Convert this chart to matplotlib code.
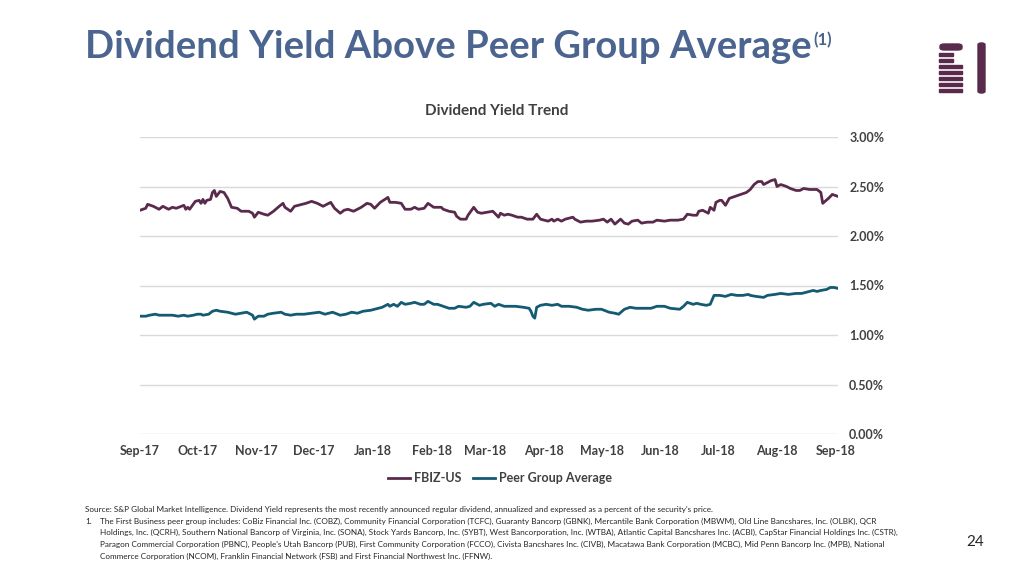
import numpy as np
import pandas as pd
import matplotlib
matplotlib.use("Agg")
import matplotlib.pyplot as plt
import matplotlib.dates as mdates
from matplotlib.patches import FancyBboxPatch, Rectangle

plt.rcParams['font.family'] = ['Lato', 'DejaVu Sans']

# ---- data (dividend yield, %) ----
fbiz_dates = [
    "2017-09-01", "2017-09-04", "2017-09-05", "2017-09-08", "2017-09-11", "2017-09-13",
    "2017-09-16", "2017-09-18", "2017-09-20", "2017-09-24", "2017-09-25", "2017-09-26",
    "2017-09-27", "2017-09-30", "2017-10-02", "2017-10-03", "2017-10-04", "2017-10-05",
    "2017-10-06", "2017-10-08", "2017-10-09", "2017-10-10", "2017-10-11", "2017-10-13",
    "2017-10-15", "2017-10-17", "2017-10-19", "2017-10-22", "2017-10-24", "2017-10-28",
    "2017-10-30", "2017-10-31", "2017-11-02", "2017-11-05", "2017-11-07", "2017-11-10",
    "2017-11-13", "2017-11-15", "2017-11-16", "2017-11-19", "2017-11-21", "2017-11-23",
    "2017-11-27", "2017-11-30", "2017-12-03", "2017-12-06", "2017-12-10", "2017-12-12",
    "2017-12-15", "2017-12-17", "2017-12-19", "2017-12-22", "2017-12-24", "2017-12-26",
    "2017-12-29", "2017-12-31", "2018-01-02", "2018-01-05", "2018-01-09", "2018-01-10",
    "2018-01-13", "2018-01-16", "2018-01-18", "2018-01-21", "2018-01-23", "2018-01-25",
    "2018-01-28", "2018-01-30", "2018-02-02", "2018-02-06", "2018-02-07", "2018-02-10",
    "2018-02-13", "2018-02-14", "2018-02-16", "2018-02-19", "2018-02-20", "2018-02-23",
    "2018-02-25", "2018-02-27", "2018-03-02", "2018-03-05", "2018-03-06", "2018-03-08",
    "2018-03-09", "2018-03-11", "2018-03-13", "2018-03-15", "2018-03-18", "2018-03-20",
    "2018-03-23", "2018-03-26", "2018-03-28", "2018-03-30", "2018-04-01", "2018-04-03",
    "2018-04-05", "2018-04-06", "2018-04-08", "2018-04-10", "2018-04-12", "2018-04-16",
    "2018-04-17", "2018-04-20", "2018-04-23", "2018-04-26", "2018-04-30", "2018-05-02",
    "2018-05-04", "2018-05-06", "2018-05-08", "2018-05-11", "2018-05-13", "2018-05-15",
    "2018-05-17", "2018-05-20", "2018-05-22", "2018-05-25", "2018-05-28", "2018-05-30",
    "2018-06-03", "2018-06-06", "2018-06-10", "2018-06-13", "2018-06-15", "2018-06-18",
    "2018-06-20", "2018-06-21", "2018-06-23", "2018-06-26", "2018-06-27", "2018-06-29",
    "2018-06-30", "2018-07-02", "2018-07-03", "2018-07-05", "2018-07-07", "2018-07-10",
    "2018-07-13", "2018-07-16", "2018-07-18", "2018-07-20", "2018-07-22", "2018-07-24",
    "2018-07-25", "2018-07-27", "2018-07-29", "2018-07-31", "2018-08-01", "2018-08-03",
    "2018-08-06", "2018-08-08", "2018-08-11", "2018-08-13", "2018-08-15", "2018-08-18",
    "2018-08-22", "2018-08-24", "2018-08-25", "2018-08-28", "2018-08-30", "2018-09-02",
]
fbiz_yield = [
    2.26, 2.28, 2.32, 2.30, 2.27, 2.30,
    2.27, 2.29, 2.28, 2.31, 2.27, 2.29,
    2.27, 2.35, 2.36, 2.33, 2.37, 2.33,
    2.36, 2.37, 2.44, 2.46, 2.40, 2.45,
    2.44, 2.38, 2.29, 2.28, 2.25, 2.25,
    2.23, 2.19, 2.24, 2.22, 2.21, 2.25,
    2.30, 2.33, 2.29, 2.25, 2.30, 2.31,
    2.33, 2.35, 2.33, 2.30, 2.34, 2.28,
    2.23, 2.26, 2.27, 2.25, 2.27, 2.29,
    2.33, 2.32, 2.28, 2.34, 2.39, 2.34,
    2.34, 2.33, 2.27, 2.27, 2.29, 2.27,
    2.28, 2.33, 2.29, 2.29, 2.27, 2.25,
    2.24, 2.20, 2.17, 2.17, 2.21, 2.29,
    2.24, 2.23, 2.24, 2.25, 2.23, 2.19,
    2.23, 2.21, 2.22, 2.21, 2.19, 2.19,
    2.17, 2.17, 2.22, 2.17, 2.16, 2.15,
    2.17, 2.15, 2.17, 2.15, 2.17, 2.19,
    2.17, 2.14, 2.15, 2.15, 2.16, 2.17,
    2.14, 2.17, 2.12, 2.17, 2.13, 2.12,
    2.15, 2.16, 2.13, 2.14, 2.14, 2.16,
    2.15, 2.16, 2.16, 2.17, 2.22, 2.21,
    2.21, 2.25, 2.26, 2.23, 2.29, 2.26,
    2.34, 2.36, 2.36, 2.31, 2.38, 2.40,
    2.42, 2.44, 2.47, 2.52, 2.55, 2.55,
    2.52, 2.54, 2.56, 2.57, 2.50, 2.52,
    2.50, 2.48, 2.46, 2.46, 2.48, 2.47,
    2.47, 2.44, 2.33, 2.38, 2.42, 2.40,
]

peer_dates = [
    "2017-09-01", "2017-09-04", "2017-09-06", "2017-09-09", "2017-09-11", "2017-09-14",
    "2017-09-18", "2017-09-21", "2017-09-24", "2017-09-26", "2017-09-29", "2017-10-01",
    "2017-10-03", "2017-10-04", "2017-10-07", "2017-10-09", "2017-10-11", "2017-10-13",
    "2017-10-17", "2017-10-21", "2017-10-24", "2017-10-27", "2017-10-30", "2017-10-31",
    "2017-11-02", "2017-11-05", "2017-11-07", "2017-11-10", "2017-11-14", "2017-11-16",
    "2017-11-19", "2017-11-22", "2017-11-26", "2017-11-30", "2017-12-04", "2017-12-07",
    "2017-12-11", "2017-12-15", "2017-12-18", "2017-12-21", "2017-12-24", "2017-12-27",
    "2017-12-31", "2018-01-02", "2018-01-06", "2018-01-09", "2018-01-10", "2018-01-12",
    "2018-01-14", "2018-01-16", "2018-01-18", "2018-01-21", "2018-01-23", "2018-01-26",
    "2018-01-28", "2018-01-30", "2018-02-02", "2018-02-04", "2018-02-07", "2018-02-10",
    "2018-02-13", "2018-02-15", "2018-02-19", "2018-02-21", "2018-02-23", "2018-02-26",
    "2018-02-28", "2018-03-04", "2018-03-06", "2018-03-08", "2018-03-11", "2018-03-14",
    "2018-03-17", "2018-03-21", "2018-03-24", "2018-03-25", "2018-03-26", "2018-03-27",
    "2018-03-28", "2018-03-30", "2018-04-02", "2018-04-05", "2018-04-08", "2018-04-10",
    "2018-04-14", "2018-04-18", "2018-04-21", "2018-04-24", "2018-04-28", "2018-05-01",
    "2018-05-05", "2018-05-08", "2018-05-10", "2018-05-13", "2018-05-16", "2018-05-19",
    "2018-05-23", "2018-05-27", "2018-05-30", "2018-06-03", "2018-06-06", "2018-06-11",
    "2018-06-13", "2018-06-15", "2018-06-18", "2018-06-20", "2018-06-22", "2018-06-25",
    "2018-06-27", "2018-06-29", "2018-07-02", "2018-07-05", "2018-07-08", "2018-07-11",
    "2018-07-14", "2018-07-17", "2018-07-18", "2018-07-21", "2018-07-25", "2018-07-27",
    "2018-07-31", "2018-08-03", "2018-08-07", "2018-08-11", "2018-08-14", "2018-08-18",
    "2018-08-20", "2018-08-22", "2018-08-24", "2018-08-27", "2018-08-29", "2018-08-31",
    "2018-09-02",
]
peer_yield = [
    1.19, 1.19, 1.20, 1.21, 1.20, 1.20,
    1.20, 1.19, 1.20, 1.19, 1.20, 1.21,
    1.21, 1.20, 1.21, 1.24, 1.25, 1.24,
    1.23, 1.21, 1.22, 1.23, 1.20, 1.16,
    1.19, 1.19, 1.21, 1.22, 1.23, 1.21,
    1.20, 1.21, 1.21, 1.22, 1.23, 1.21,
    1.23, 1.20, 1.21, 1.23, 1.22, 1.24,
    1.25, 1.26, 1.28, 1.31, 1.29, 1.31,
    1.29, 1.33, 1.31, 1.32, 1.33, 1.31,
    1.31, 1.34, 1.31, 1.31, 1.29, 1.27,
    1.27, 1.29, 1.28, 1.29, 1.33, 1.30,
    1.31, 1.32, 1.29, 1.31, 1.29, 1.29,
    1.29, 1.28, 1.27, 1.24, 1.19, 1.17,
    1.28, 1.30, 1.31, 1.30, 1.31, 1.29,
    1.29, 1.28, 1.26, 1.25, 1.26, 1.26,
    1.23, 1.22, 1.21, 1.26, 1.28, 1.27,
    1.27, 1.27, 1.29, 1.29, 1.27, 1.26,
    1.29, 1.33, 1.31, 1.32, 1.31, 1.30,
    1.31, 1.40, 1.40, 1.39, 1.41, 1.40,
    1.40, 1.41, 1.40, 1.39, 1.38, 1.40,
    1.41, 1.42, 1.41, 1.42, 1.42, 1.44,
    1.45, 1.44, 1.45, 1.46, 1.48, 1.48,
    1.47,
]

y_ticks = [0.0, 0.5, 1.0, 1.5, 2.0, 2.5, 3.0]
x_start, x_end = "2017-09-01", "2018-09-02"

purple = "#5a2a4c"
teal = "#145a72"
slate = "#4b6490"
grey_txt = "#404040"

fig = plt.figure(figsize=(10.24, 5.76), dpi=100)
fig.patch.set_facecolor("white")

ax = fig.add_axes([140 / 1024, 1 - 434 / 576, 698 / 1024, 297 / 576])
ax.plot(pd.to_datetime(fbiz_dates), fbiz_yield, color=purple, lw=2.0, label="FBIZ-US")
ax.plot(pd.to_datetime(peer_dates), peer_yield, color=teal, lw=2.0, label="Peer Group Average")

ax.set_xlim(pd.Timestamp(x_start), pd.Timestamp(x_end))
ax.set_ylim(0, 3.0)
ax.set_yticks(y_ticks)
ax.set_yticklabels(["%.2f%%" % v for v in y_ticks])
ax.yaxis.tick_right()
ax.grid(axis="y", color="#d9d9d9", lw=1)
ax.set_axisbelow(True)
for s in ax.spines.values():
    s.set_visible(False)
ax.xaxis.set_major_locator(mdates.MonthLocator())
ax.xaxis.set_major_formatter(mdates.DateFormatter("%b-%y"))
ax.tick_params(length=0, labelsize=9, labelcolor=grey_txt, pad=8)
for lab in ax.get_xticklabels() + ax.get_yticklabels():
    lab.set_fontweight("bold")

fig.text(497 / 1024, 1 - 111 / 576, "Dividend Yield Trend", ha="center", va="center",
         fontsize=11, fontweight="bold", color=grey_txt)

fig.legend(loc="center", bbox_to_anchor=(500 / 1024, 1 - 478 / 576), ncol=2, frameon=False,
           handlelength=1.8, handletextpad=0.3, columnspacing=0.9,
           prop={"weight": "bold", "size": 9}, labelcolor=grey_txt)

# slide title, superscript placed right after it
title = fig.text(85 / 1024, 1 - 47 / 576, "Dividend Yield Above Peer Group Average", ha="left",
                 va="center", fontsize=27.5, fontweight="bold", color=slate)
fig.canvas.draw()
bb = title.get_window_extent().transformed(fig.transFigure.inverted())
fig.text(bb.x1 + 2 / 1024, 1 - 40 / 576, "(1)", ha="left", va="center",
         fontsize=12, fontweight="bold", color=slate)

# logo
def px_rect(x0, y0, x1, y1, **kw):
    return Rectangle((x0 / 1024, 1 - y1 / 576), (x1 - x0) / 1024, (y1 - y0) / 576,
                     transform=fig.transFigure, **kw)

fig.patches.append(FancyBboxPatch((940 / 1024, 1 - 50 / 576), 22 / 1024, 6 / 576,
                                  boxstyle="round,pad=0,rounding_size=0.004",
                                  transform=fig.transFigure, color=purple))
for y0, x1 in [(53, 953), (59, 953), (65, 962), (71, 962), (77, 962), (83, 962), (89, 962)]:
    fig.patches.append(px_rect(939, y0, x1, y0 + 3, color=purple))
fig.patches.append(FancyBboxPatch((978 / 1024, 1 - 93 / 576), 7 / 1024, 50 / 576,
                                  boxstyle="round,pad=0,rounding_size=0.003",
                                  transform=fig.transFigure, color=purple))

# footnotes
source_note = "Source: S&P Global Market Intelligence. Dividend Yield represents the most recently announced regular dividend, annualized and expressed as a percent of the security's price."
peer_note = [
    "The First Business peer group includes: CoBiz Financial Inc. (COBZ), Community Financial Corporation (TCFC), Guaranty Bancorp (GBNK), Mercantile Bank Corporation (MBWM), Old Line Bancshares, Inc. (OLBK), QCR",
    "Holdings, Inc. (QCRH), Southern National Bancorp of Virginia, Inc. (SONA), Stock Yards Bancorp, Inc. (SYBT), West Bancorporation, Inc. (WTBA), Atlantic Capital Bancshares Inc. (ACBI), CapStar Financial Holdings Inc. (CSTR),",
    "Paragon Commercial Corporation (PBNC), People's Utah Bancorp (PUB), First Community Corporation (FCCO), Civista Bancshares Inc. (CIVB), Macatawa Bank Corporation (MCBC), Mid Penn Bancorp Inc. (MPB), National",
    "Commerce Corporation (NCOM), Franklin Financial Network (FSB) and First Financial Northwest Inc. (FFNW).",
]
fs_note = 5.85
fig.text(85 / 1024, 1 - 509 / 576, source_note, fontsize=fs_note, color="#262626", va="center")
fig.text(85 / 1024, 1 - 521 / 576, "1.", fontsize=fs_note, color="#262626", va="center")
for y, line in zip([521, 532, 544, 556], peer_note):
    fig.text(100 / 1024, 1 - y / 576, line, fontsize=fs_note, color="#262626", va="center")

fig.text(975 / 1024, 1 - 542 / 576, "24", ha="center", va="center", fontsize=11, color="#262626")

fig.savefig("out.png", dpi=100)
